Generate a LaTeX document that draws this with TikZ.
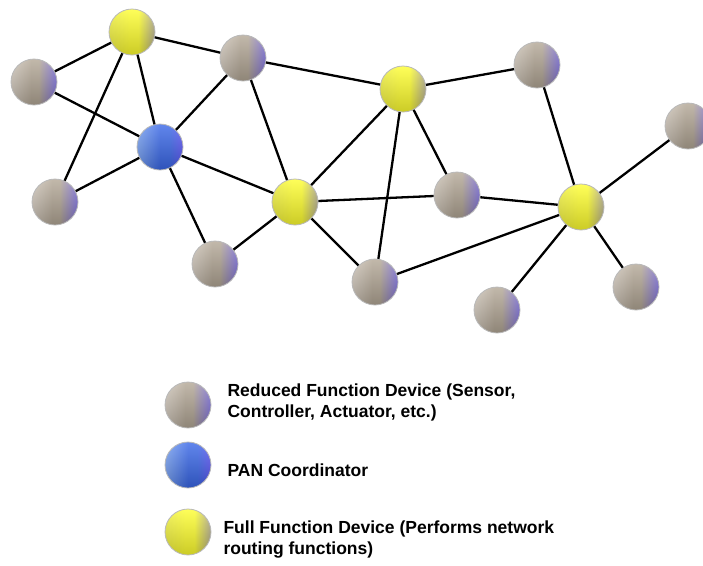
\documentclass[tikz,border=0pt]{standalone}
\usepackage{fontspec}
\setmainfont{Liberation Sans}
\usepackage{tikz}
\usetikzlibrary{calc}
\usetikzlibrary{shapes}

\definecolor{rfdhi}{HTML}{D0C7BB}
\definecolor{rfdmid}{HTML}{B3A796}
\definecolor{rfdrim}{HTML}{7A6CDA}
\definecolor{ffdhi}{HTML}{F0F040}
\definecolor{ffdmid}{HTML}{FFFF30}
\definecolor{ffdrim}{HTML}{ADA68A}
\definecolor{panhi}{HTML}{78A2F2}
\definecolor{panmid}{HTML}{3A68E8}
\definecolor{panrim}{HTML}{5C54F4}
\pgfdeclarehorizontalshading{rfdball}{100bp}{color(0bp)=(rfdhi); color(25bp)=(rfdhi); color(47bp)=(rfdmid); color(55bp)=(rfdmid); color(75bp)=(rfdrim); color(100bp)=(rfdrim)}
\pgfdeclarehorizontalshading{ffdball}{100bp}{color(0bp)=(ffdhi); color(25bp)=(ffdhi); color(47bp)=(ffdmid); color(57bp)=(ffdmid); color(75bp)=(ffdrim); color(100bp)=(ffdrim)}
\pgfdeclarehorizontalshading{panball}{100bp}{color(0bp)=(panhi); color(25bp)=(panhi); color(50bp)=(panmid); color(60bp)=(panmid); color(75bp)=(panrim); color(100bp)=(panrim)}

\tikzset{
  dev/.style={circle, minimum size=46pt, inner sep=0pt, draw=gray!55, line width=0.8pt,
    path picture={\shade[top color=white, bottom color=black, opacity=0.2]
      (path picture bounding box.north west) rectangle (path picture bounding box.south east);}},
  rfd/.style={dev, shading=rfdball},
  ffd/.style={dev, shading=ffdball},
  pan/.style={dev, shading=panball},
  link/.style={line width=2.3pt, black},
  legtext/.style={anchor=west, align=left, font=\bfseries\fontsize{17.5}{21}\selectfont}
}

\begin{document}
\begin{tikzpicture}[x=1pt,y=-1pt]
    \useasboundingbox (0,0) rectangle (703,565);
    %devices
    \node[ffd] (ffdA) at (132,32) {};
    \node[rfd] (rfdA) at (34,82) {};
    \node[rfd] (rfdB) at (243,58) {};
    \node[pan] (panC) at (160,147) {};
    \node[rfd] (rfdC) at (55,202) {};
    \node[rfd] (rfdD) at (215,264) {};
    \node[ffd] (ffdB) at (295,202) {};
    \node[ffd] (ffdC) at (403,89) {};
    \node[rfd] (rfdE) at (537,65) {};
    \node[rfd] (rfdF) at (457,195) {};
    \node[rfd] (rfdG) at (375,282) {};
    \node[ffd] (ffdD) at (581,207) {};
    \node[rfd] (rfdH) at (688,126) {};
    \node[rfd] (rfdI) at (497,310) {};
    \node[rfd] (rfdJ) at (636,287) {};
    %links
    \foreach \a/\b in {ffdA/rfdA, ffdA/rfdB, ffdA/panC, ffdA/rfdC, rfdA/panC, rfdC/panC,
        panC/rfdB, panC/rfdD, panC/ffdB, rfdB/ffdB, rfdB/ffdC, ffdB/rfdD, ffdB/ffdC,
        ffdB/rfdF, rfdF/ffdD, ffdB/rfdG, ffdC/rfdE, ffdC/rfdF, ffdC/rfdG, rfdE/ffdD,
        ffdD/rfdH, ffdD/rfdI, ffdD/rfdJ, ffdD/rfdG}
        \draw[link] (\a) -- (\b);
    %legend
    \node[rfd] (keyR) at (188,405) {};
    \node[pan] (keyP) at (188,465) {};
    \node[ffd] (keyF) at (188,532) {};
    \node[legtext] (txtR) at (224,402) {Reduced Function Device (Sensor,\\Controller, Actuator, etc.)};
    \node[legtext] (txtP) at (224,470) {PAN Coordinator};
    \node[legtext] (txtF) at (220,540) {Full Function Device (Performs network\\routing functions)};
\end{tikzpicture}
\end{document}
